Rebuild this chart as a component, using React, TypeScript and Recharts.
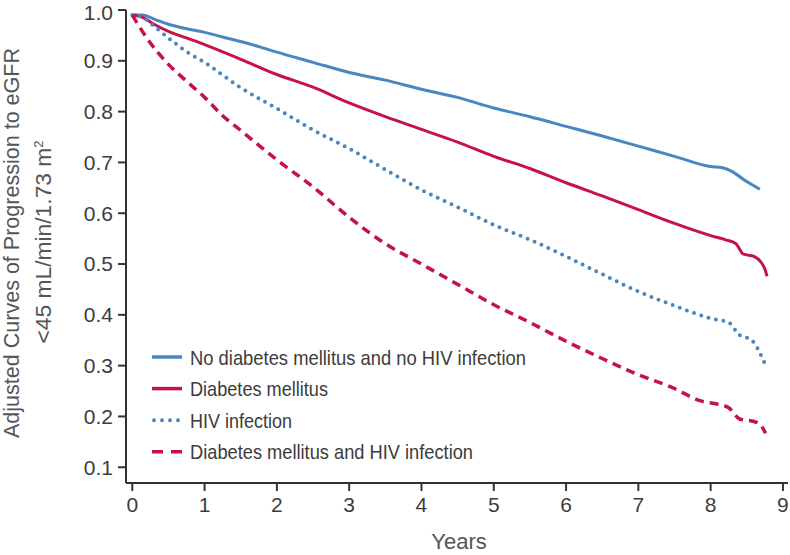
import React from 'react';
import { LineChart, Line, XAxis, YAxis } from 'recharts';

// ---- data ----
const noDmNoHivYears = [0, 0.15, 0.3, 0.5, 0.75, 1, 1.25, 1.5, 1.75, 2, 2.5, 3, 3.5, 4, 4.5, 5, 5.5, 6, 6.5, 7, 7.5, 8, 8.15, 8.3, 8.45, 8.55, 8.68];
const noDmNoHivValues = [0.99, 0.99, 0.982, 0.972, 0.963, 0.956, 0.947, 0.938, 0.928, 0.917, 0.897, 0.877, 0.862, 0.844, 0.828, 0.807, 0.79, 0.771, 0.752, 0.732, 0.712, 0.692, 0.69, 0.682, 0.667, 0.658, 0.647];

const dmYears = [0, 0.15, 0.3, 0.5, 0.75, 1, 1.5, 2, 2.5, 3, 3.5, 4, 4.5, 5, 5.5, 6, 6.5, 7, 7.5, 8, 8.2, 8.35, 8.45, 8.6, 8.7, 8.75, 8.78];
const dmValues = [0.99, 0.985, 0.972, 0.958, 0.945, 0.932, 0.903, 0.873, 0.848, 0.817, 0.79, 0.765, 0.74, 0.712, 0.688, 0.66, 0.634, 0.607, 0.58, 0.556, 0.548, 0.54, 0.52, 0.515, 0.503, 0.49, 0.476];

const hivYears = [0, 0.15, 0.3, 0.5, 0.75, 1, 1.5, 2, 2.5, 3, 3.5, 4, 4.5, 5, 5.5, 6, 6.5, 7, 7.5, 8, 8.25, 8.4, 8.5, 8.6, 8.68, 8.75];
const hivValues = [0.99, 0.985, 0.968, 0.945, 0.918, 0.897, 0.847, 0.806, 0.764, 0.727, 0.686, 0.646, 0.612, 0.577, 0.548, 0.515, 0.48, 0.446, 0.418, 0.393, 0.385, 0.36, 0.355, 0.345, 0.325, 0.304];

const dmHivYears = [0, 0.2, 0.5, 0.75, 1, 1.25, 1.5, 2, 2.5, 3, 3.5, 4, 4.5, 5, 5.5, 6, 6.5, 7, 7.5, 7.85, 8.1, 8.25, 8.4, 8.6, 8.68, 8.76];
const dmHivValues = [0.99, 0.945, 0.893, 0.86, 0.828, 0.792, 0.763, 0.705, 0.652, 0.592, 0.54, 0.5, 0.46, 0.42, 0.385, 0.348, 0.314, 0.282, 0.255, 0.231, 0.224, 0.217, 0.195, 0.19, 0.185, 0.167];

const xTicks = [0, 1, 2, 3, 4, 5, 6, 7, 8, 9];
const yTicks = [0.1, 0.2, 0.3, 0.4, 0.5, 0.6, 0.7, 0.8, 0.9, 1.0];

const seriesNames = [
  'No diabetes mellitus and no HIV infection',
  'Diabetes mellitus',
  'HIV infection',
  'Diabetes mellitus and HIV infection',
];

const BLUE = '#4a86bf';
const RED = '#c6124c';
const FONT = "'Liberation Sans', Arial, sans-serif";
const TEXT = '#3c3c3c';
const TITLE = '#555555';

const toPoints = (ts: number[], vs: number[]) => ts.map((t, i) => ({ t, v: vs[i] }));

const series = [
  { name: seriesNames[0], data: toPoints(noDmNoHivYears, noDmNoHivValues), color: BLUE, dash: undefined as string | undefined, width: 3, cap: 'butt' },
  { name: seriesNames[1], data: toPoints(dmYears, dmValues), color: RED, dash: undefined as string | undefined, width: 3, cap: 'butt' },
  { name: seriesNames[2], data: toPoints(hivYears, hivValues), color: BLUE, dash: '0 7.6', width: 4, cap: 'round' },
  { name: seriesNames[3], data: toPoints(dmHivYears, dmHivValues), color: RED, dash: '9 6', width: 3.5, cap: 'butt' },
];

// legend styling (sample dash + compressed text width to mimic the condensed face)
const legendDash = [undefined, undefined, '0 8', '11 8'];
const legendTextWidth = [336, 138, 102, 283];

const LegendOverlay = () => (
  <svg
    width={790}
    height={555}
    style={{ position: 'absolute', left: 0, top: 0, pointerEvents: 'none' }}
  >
    {series.map((s, i) => {
      const cy = 357 + i * 31.6;
      return (
        <g key={s.name}>
          <line
            x1={i === 2 ? 154 : 152}
            y1={cy}
            x2={182}
            y2={cy}
            stroke={s.color}
            strokeWidth={i === 2 ? 4 : 3.5}
            strokeDasharray={legendDash[i]}
            strokeLinecap={i === 2 ? 'round' : 'butt'}
          />
          <text
            x={190}
            y={cy + 7.5}
            fontFamily={FONT}
            fontSize={21}
            fill={TEXT}
            textLength={legendTextWidth[i]}
            lengthAdjust="spacingAndGlyphs"
          >
            {s.name}
          </text>
        </g>
      );
    })}
  </svg>
);

const YLabel = () => (
  <g fontFamily={FONT} fontSize={22} fill={TITLE}>
    <text
      x={19}
      y={243}
      transform="rotate(-90, 19, 243)"
      textAnchor="middle"
      textLength={390}
      lengthAdjust="spacingAndGlyphs"
    >
      Adjusted Curves of Progression to eGFR
    </text>
    <text x={51} y={242} transform="rotate(-90, 51, 242)" textAnchor="middle">
      <tspan textLength={196} lengthAdjust="spacingAndGlyphs">{'<45 mL/min/1.73 m'}</tspan>
      <tspan dy={-8} fontSize={13}>2</tspan>
    </text>
  </g>
);

const XLabel = () => (
  <text x={459} y={549} textAnchor="middle" fontFamily={FONT} fontSize={22} fill={TITLE}>
    Years
  </text>
);

export default function App() {
  return (
    <div style={{ position: 'absolute', left: 0, top: 0, width: 790, height: 555, background: '#fff' }}>
      <LineChart width={790} height={555} margin={{ top: 10, right: 2, bottom: 0, left: 0 }}>
        <XAxis
          dataKey="t"
          type="number"
          domain={[-0.087, 9.07]}
          ticks={xTicks}
          allowDataOverflow
          height={72}
          tickSize={8}
          tickMargin={6}
          axisLine={{ stroke: '#333', strokeWidth: 2 }}
          tickLine={{ stroke: '#333', strokeWidth: 2 }}
          tick={{ fill: TEXT, fontSize: 21, fontFamily: FONT }}
          label={{ content: () => <XLabel /> }}
        />
        <YAxis
          dataKey="v"
          type="number"
          domain={[0.069, 1.0]}
          ticks={yTicks}
          allowDataOverflow
          width={126}
          tickSize={8}
          tickMargin={5}
          tickFormatter={(v: number) => v.toFixed(1)}
          axisLine={{ stroke: '#333', strokeWidth: 2 }}
          tickLine={{ stroke: '#333', strokeWidth: 2 }}
          tick={{ fill: TEXT, fontSize: 21, fontFamily: FONT }}
          label={{ content: () => <YLabel /> }}
        />
        {series.map((s) => (
          <Line
            key={s.name}
            data={s.data}
            dataKey="v"
            name={s.name}
            type="monotone"
            stroke={s.color}
            strokeWidth={s.width}
            strokeDasharray={s.dash}
            strokeLinecap={s.cap as any}
            dot={false}
            activeDot={false}
            isAnimationActive={false}
          />
        ))}
      </LineChart>
      <LegendOverlay />
    </div>
  );
}
